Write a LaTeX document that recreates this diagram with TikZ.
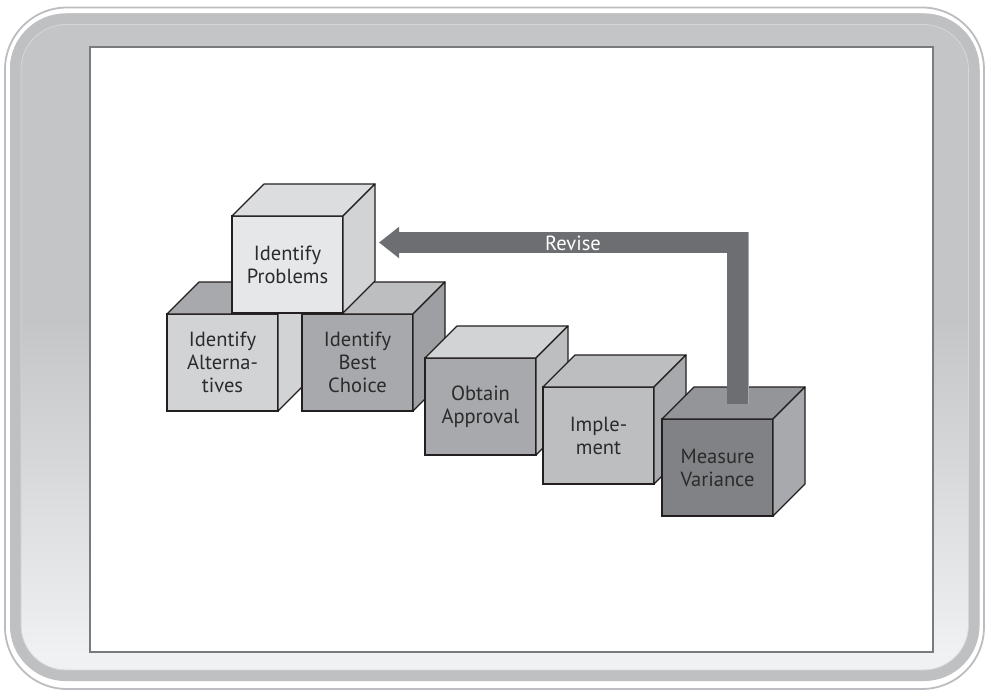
\documentclass[tikz,border=0pt]{standalone}
\usepackage{fontspec}
\setmainfont{PT Sans}
\usetikzlibrary{arrows.meta,calc}

\definecolor{ink}{HTML}{2B2B2B}
\definecolor{edgeline}{HTML}{231F20}
\definecolor{frgray}{HTML}{C4C5C7}
\definecolor{frlight}{HTML}{F0F1F2}
\definecolor{frline}{HTML}{BCBDC0}
\definecolor{frband}{HTML}{BFC0C2}
\definecolor{frfaint}{HTML}{D6D7D9}
\definecolor{panelline}{HTML}{7A7B7E}
\definecolor{arrowgray}{HTML}{6D6E71}
\definecolor{arrowedge}{HTML}{A7A9AC}
\definecolor{gA}{HTML}{E6E7E8}
\definecolor{gB}{HTML}{DCDDDE}
\definecolor{gC}{HTML}{D1D3D4}
\definecolor{gD}{HTML}{BCBEC0}
\definecolor{gE}{HTML}{A7A9AC}
\definecolor{gF}{HTML}{9D9FA2}
\definecolor{gG}{HTML}{939598}
\definecolor{gH}{HTML}{808285}

% light at the bottom, grey over the upper half
\pgfdeclareverticalshading{framefade}{100bp}{color(0bp)=(frlight); color(27bp)=(frlight); color(52bp)=(frgray); color(100bp)=(frgray)}

\tikzset{
  cubefront/.style={draw=edgeline, line width=1.2pt, rectangle, anchor=north west,
    minimum width=111pt, minimum height=97pt, inner sep=2pt, outer sep=0pt,
    align=center, text=ink, font=\fontsize{20.5}{23}\selectfont},
  cubeface/.style={draw=edgeline, line width=1.2pt, line join=round},
  revise/.style={draw=arrowgray, line width=21.5pt, line join=miter,
    -{Triangle[length=20pt,width=30pt]}},
  revlabel/.style={text=white, font=\fontsize{20.5}{23}\selectfont, inner sep=0pt},
}

% cube: name, x, y (front top-left), front fill, top fill, side fill, text
\newcommand\cubeblock[7]{%
  \node[cubefront, fill=#4] (#1) at (#2,#3) {#7};
  \filldraw[cubeface, fill=#5] (#1.north west) -- ++(32,-32) -- ++(111,0) -- (#1.north east) -- cycle;
  \filldraw[cubeface, fill=#6] (#1.north east) -- ++(32,-32) -- ++(0,97) -- (#1.south east) -- cycle;
}

\begin{document}
\begin{tikzpicture}[x=1pt, y=-1pt]
\useasboundingbox (0,0) rectangle (989,693);
\fill[white] (0,0) rectangle (989,693);

% outer frame
\draw[frline, line width=1.8pt, rounded corners=62pt] (5,7.5) rectangle (984,689);
\shade[shading=framefade, rounded corners=56pt] (10,13.5) rectangle (979.5,681);
\draw[frband, line width=11pt, rounded corners=50pt] (15.5,19) rectangle (974,675.5);
\draw[frfaint, line width=0.8pt, rounded corners=45pt] (21,24.5) rectangle (968.5,670);

% white panel
\fill[white] (90,47) rectangle (933,652);
\draw[panelline, line width=1.3pt] (90,47) rectangle (933,652);

% cubes, back to front
\cubeblock{alt}{167}{314}{gC}{gE}{gC}{Identify\\Alterna-\\tives}
\cubeblock{best}{302}{314}{gE}{gD}{gF}{Identify\\Best\\Choice}
\cubeblock{prob}{232}{216}{gA}{gB}{gC}{Identify\\Problems}
\cubeblock{appr}{425}{358}{gE}{gC}{gD}{Obtain\\Approval}
\cubeblock{impl}{543}{387}{gD}{gD}{gE}{Imple-\\ment}
\cubeblock{meas}{662}{419}{gH}{gG}{gE}{Measure\\Variance}

% feedback arrow from the last step back to the first
\coordinate (revfoot) at ($(meas.north west)+(75.5,-15)$);
\coordinate (revtip) at ($(prob.north east)+(36,26.5)$);
\draw[revise] (revfoot) |- (revtip);
\draw[arrowedge, line width=1pt] ($(revfoot)+(11.2,0)$) -- ($(revfoot |- revtip)+(11.2,-10.75)$);
\node[revlabel] (revtext) at (573,243) {Revise};
\end{tikzpicture}
\end{document}
